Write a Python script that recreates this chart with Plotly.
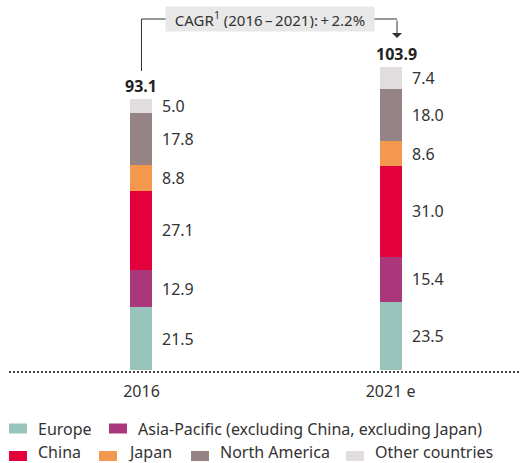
import plotly.graph_objects as go

years = ['2016', '2021 e']
regions = ['Europe', 'Asia-Pacific (excluding China, excluding Japan)', 'China',
           'Japan', 'North America', 'Other countries']
europe = [21.5, 23.5]
asia_pacific = [12.9, 15.4]
china = [27.1, 31.0]
japan = [8.8, 8.6]
north_america = [17.8, 18.0]
other = [5.0, 7.4]
totals = [93.1, 103.9]
cagr_text = 'CAGR<sup>1</sup> (2016\u2009–\u20092021):\u2009+\u20092.2%'

colors = ['#98c4bb', '#aa377b', '#e4003a', '#f4984e', '#968386', '#e1dcdd']
series = [europe, asia_pacific, china, japan, north_america, other]

FONT = 'Noto Sans'
TEXT = '#333333'
W, H = 532, 463
PLOT_H = 370
PX_PER_UNIT = 2.914
Y_MAX = PLOT_H / PX_PER_UNIT
X0, X1 = -0.568, 1.568
PX_PER_CAT = W / (X1 - X0)


def px_x(px):
    return X0 + px / PX_PER_CAT


def px_y(px):
    return (PLOT_H - px) / PX_PER_UNIT


def paper_y(px):
    return (PLOT_H - px) / PLOT_H


fig = go.Figure()
xs = [0, 1]
for name, vals, col in zip(regions, series, colors):
    fig.add_trace(go.Bar(x=xs, y=vals, name=name, marker_color=col,
                         marker_line_width=0, width=0.0884, showlegend=False,
                         hoverinfo='skip'))

annotations = []
# segment value labels
for i in range(len(xs)):
    base = 0
    for vals in series:
        v = vals[i]
        annotations.append(dict(x=xs[i], y=base + v / 2, text=f'{v:.1f}',
                                xanchor='left', yanchor='middle', xshift=19,
                                showarrow=False, font=dict(size=16, color=TEXT)))
        base += v

# totals
for i, t in enumerate(totals):
    annotations.append(dict(x=xs[i], y=t, text=f'<b>{t:.1f}</b>', yanchor='bottom',
                            yshift=0, xshift=[0, 6][i], showarrow=False,
                            font=dict(size=16, color='#222222')))

# CAGR bracket
bracket_y = px_y(19)
annotations.append(dict(x=px_x(270), y=bracket_y, text=cagr_text, showarrow=False,
                        bgcolor='#e8e8e8', borderpad=3, width=202, height=18,
                        font=dict(size=15, color=TEXT)))
annotations.append(dict(x=px_x(397), y=px_y(38), text='', showarrow=True,
                        axref='pixel', ayref='pixel', ax=0, ay=-19,
                        arrowhead=1, arrowsize=1.7, arrowwidth=1, arrowcolor='#333333'))

shapes = [
    dict(type='line', xref='x', yref='y', x0=0, x1=0, y0=px_y(71), y1=bracket_y,
         line=dict(color='#333333', width=1)),
    dict(type='line', xref='x', yref='y', x0=0, x1=px_x(166), y0=bracket_y, y1=bracket_y,
         line=dict(color='#333333', width=1)),
    dict(type='line', xref='x', yref='y', x0=px_x(374), x1=px_x(397), y0=bracket_y,
         y1=bracket_y, line=dict(color='#333333', width=1)),
    dict(type='line', xref='paper', yref='paper', x0=9 / W, x1=520 / W,
         y0=paper_y(372), y1=paper_y(372),
         line=dict(color='#444444', width=2, dash='2px,2px')),
]

# legend, laid out by hand in two rows
legend_rows = [[(0, 9), (1, 109)], [(2, 9), (3, 99), (4, 191), (5, 346)]]
swatch_y = [428.5, 456]
label_y = [428.5, 451.5]
for row, sy, ly in zip(legend_rows, swatch_y, label_y):
    for idx, xpx in row:
        shapes.append(dict(type='rect', xref='paper', yref='paper',
                           x0=xpx / W, x1=(xpx + 18) / W,
                           y0=paper_y(sy + 5), y1=paper_y(sy - 5),
                           fillcolor=colors[idx], line_width=0))
        annotations.append(dict(xref='paper', yref='paper', x=(xpx + 27) / W,
                                y=paper_y(ly), text=regions[idx], xanchor='left',
                                yanchor='middle', showarrow=False,
                                font=dict(size=16, color=TEXT)))

fig.update_layout(
    width=W, height=H,
    margin=dict(l=0, r=0, t=0, b=H - PLOT_H),
    barmode='stack',
    plot_bgcolor='white', paper_bgcolor='white',
    font=dict(family=FONT, size=16, color=TEXT),
    xaxis=dict(range=[X0, X1], tickvals=xs, ticktext=years, showgrid=False,
               zeroline=False, showline=False, ticks='', ticklabelstandoff=10,
               tickfont=dict(size=16, color=TEXT)),
    yaxis=dict(range=[0, Y_MAX], visible=False),
    annotations=annotations,
    shapes=shapes,
)

fig.write_html('out.html', config={'displayModeBar': False},
               post_script="document.body.style.margin='0';")
